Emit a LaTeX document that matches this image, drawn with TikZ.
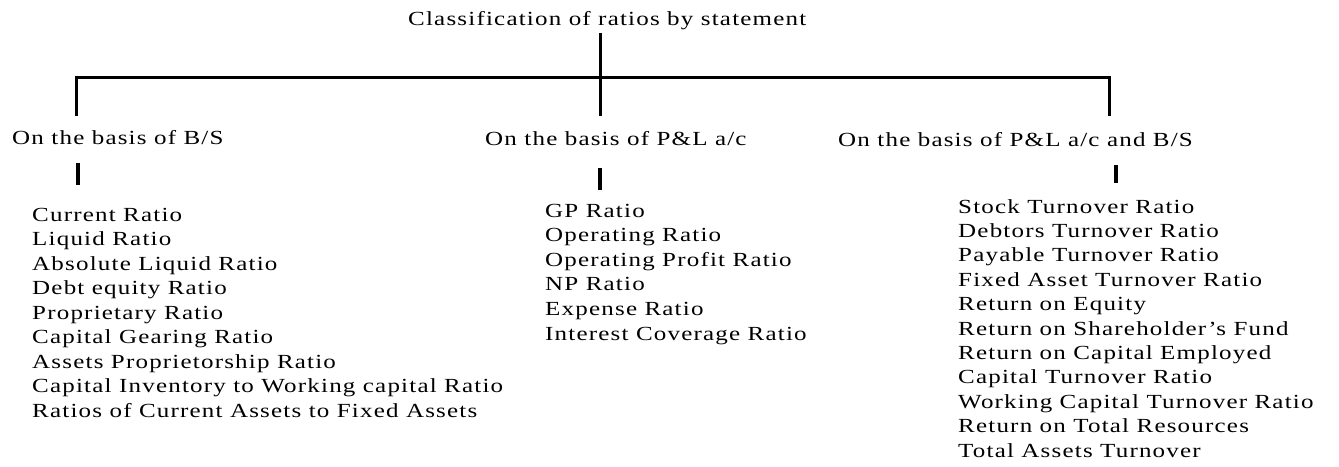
\documentclass[tikz,border=0pt]{standalone}
\usepackage{fontspec}
\setmainfont[FakeStretch=1.25,LetterSpace=6]{Liberation Serif}
\begin{document}
\begin{tikzpicture}[x=1pt,y=-1pt,
  txt/.style={inner sep=0pt,anchor=base west,font=\fontsize{20}{24}\selectfont},
  conn/.style={line width=3pt},
  tickline/.style={line width=4pt}]
\useasboundingbox (0,0) rectangle (1339,466);
\fill[white] (0,0) rectangle (1339,466);
% title
\node[txt] (title) at (408,25) {Classification of ratios by statement};
% headings
\node[txt] (hbs) at (12,144) {On the basis of B/S};
\node[txt] (hpl) at (485,145) {On the basis of P\&L a/c};
\node[txt] (hboth) at (838,146) {On the basis of P\&L a/c and B/S};
% connector points
\coordinate (top) at (600,33);
\coordinate (lt) at (76,77);
\coordinate (rt) at (1109,77);
\coordinate (lb) at (76,116);
\coordinate (mb) at (600,116);
\coordinate (rb) at (1109,116);
\draw[conn] (top) -- (mb);
\draw[conn] (lb) -- (lt) -- (rt) -- (rb);
% ticks
\coordinate (t1a) at (78,163); \coordinate (t1b) at (78,185);
\coordinate (t2a) at (600,168); \coordinate (t2b) at (600,190);
\coordinate (t3a) at (1116,165); \coordinate (t3b) at (1116,183);
\draw[tickline] (t1a) -- (t1b);
\draw[tickline] (t2a) -- (t2b);
\draw[tickline] (t3a) -- (t3b);
% lists
\foreach \t [count=\i from 0] in {Current Ratio,Liquid Ratio,Absolute Liquid Ratio,Debt equity Ratio,Proprietary Ratio,Capital Gearing Ratio,Assets Proprietorship Ratio,Capital Inventory to Working capital Ratio,Ratios of Current Assets to Fixed Assets}
  \node[txt] (a\i) at (32,221+24.5*\i) {\t};
\foreach \t [count=\i from 0] in {GP Ratio,Operating Ratio,Operating Profit Ratio,NP Ratio,Expense Ratio,Interest Coverage Ratio}
  \node[txt] (b\i) at (545,217+24.6*\i) {\t};
\foreach \t [count=\i from 0] in {Stock Turnover Ratio,Debtors Turnover Ratio,Payable Turnover Ratio,Fixed Asset Turnover Ratio,Return on Equity,Return on Shareholder’s Fund,Return on Capital Employed,Capital Turnover Ratio,Working Capital Turnover Ratio,Return on Total Resources,Total Assets Turnover}
  \node[txt] (c\i) at (958,213+24.4*\i) {\t};
\end{tikzpicture}
\end{document}
